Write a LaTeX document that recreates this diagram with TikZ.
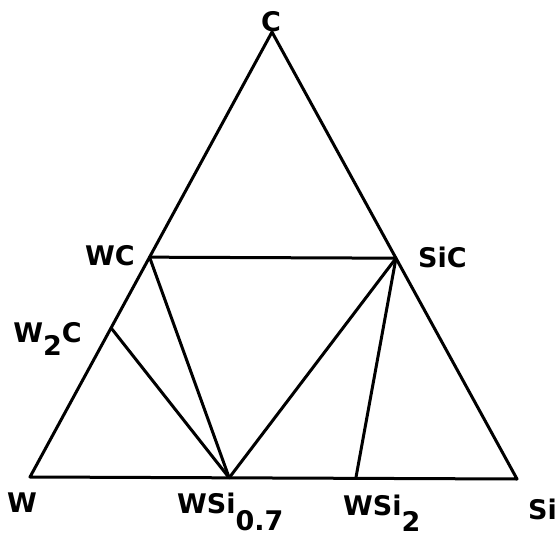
\documentclass[tikz,border=0pt]{standalone}
\usepackage{fontspec}
\setmainfont{DejaVu Sans}
\usetikzlibrary{positioning,calc}

\begin{document}
\begin{tikzpicture}[
  x=1pt,y=-1pt,
  phase/.style={font=\fontsize{27}{30}\selectfont\bfseries,inner sep=0pt},
  tie/.style={line width=3pt,line join=round,line cap=round}
]
\useasboundingbox (0,0) rectangle (559,540);
% corners of the triangle
\coordinate (W) at (30,477);
\coordinate (Si) at (517,479);
\coordinate (C) at (272,32);
% compounds
\coordinate (WC) at ($(W)!0.494!(C)$);
\coordinate (SiC) at ($(Si)!0.494!(C)$);
\coordinate (W2C) at ($(W)!0.335!(C)$);
\coordinate (WSi7) at ($(W)!0.409!(Si)$);
\coordinate (WSi2) at ($(W)!0.669!(Si)$);
\draw[tie] (W) -- (Si) -- (C) -- cycle;
\draw[tie] (WC) -- (SiC);
\draw[tie] (W2C) -- (WSi7);
\draw[tie] (WC) -- (WSi7);
\draw[tie] (SiC) -- (WSi7);
\draw[tie] (SiC) -- (WSi2);
% labels
\node[phase,anchor=base] (lC) at (271,32) {C};
\node[phase,anchor=base east] (lWC) at (135,265) {WC};
\node[phase,anchor=base west] (lSiC) at (418,267) {SiC};
\node[phase,anchor=base east] (lW2C) at (82,342) {W\raisebox{-13pt}{2}C};
\node[phase,anchor=base] (lW) at (22,512) {W};
\node[phase,anchor=base west] (lWSi7) at (177,513) {WSi\raisebox{-17pt}{0.7}};
\node[phase,anchor=base west] (lWSi2) at (343,515) {WSi\raisebox{-16pt}{2}};
\node[phase,anchor=base west] (lSi) at (528,519) {Si};
\end{tikzpicture}
\end{document}
